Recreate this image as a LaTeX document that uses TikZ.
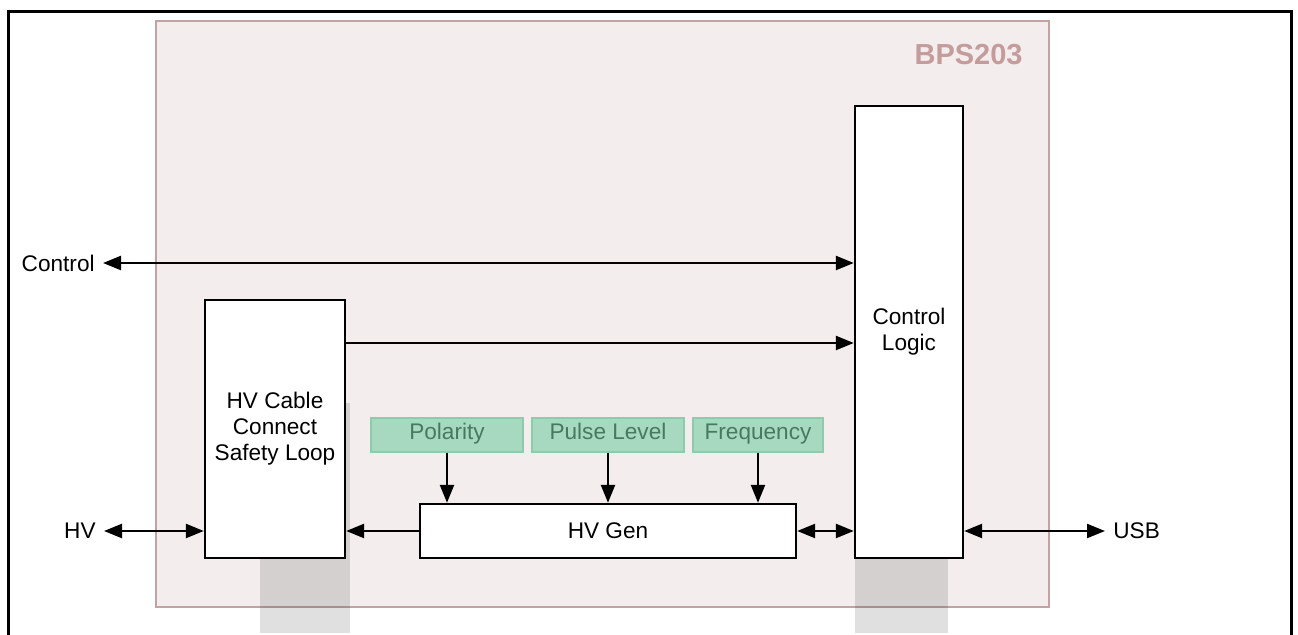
\documentclass[tikz,border=0pt]{standalone}
\usepackage{fontspec}
\setmainfont{Liberation Sans}
\usetikzlibrary{arrows.meta}
\definecolor{frameRose}{HTML}{C2A3A3}
\definecolor{fillRose}{HTML}{F3EDED}
\definecolor{labelRose}{HTML}{C49C9C}
\definecolor{paramFill}{HTML}{A7D9C1}
\definecolor{paramLine}{HTML}{8DCBAD}
\definecolor{paramText}{HTML}{457A60}
\tikzset{
    blockdiagram/.style={
        x=0.5pt, y=-0.5pt,
        font=\fontsize{11.3}{13}\selectfont,
        block/.style={draw=black, fill=white, line width=1.2pt, inner sep=0pt, align=center},
        param/.style={draw=paramLine, fill=paramFill, text=paramText, line width=0.6pt, minimum height=17pt, inner sep=0pt, text height=0.72em, text depth=0.22em},
        portlabel/.style={inner sep=4pt},
        shadowbox/.style={fill=black, fill opacity=0.12},
        link/.style={line width=1.2pt},
        >={Triangle[length=9pt, width=7pt]},
    },
}

\begin{document}
\begin{tikzpicture}[blockdiagram]
    \clip (0,0) rectangle (1298,635);
    \draw[line width=1.5pt] (8,12) rectangle (1291,660);
    \draw[frameRose, fill=fillRose, line width=1pt] (156,21) rectangle (1049,607);
    \node[anchor=east, text=labelRose, font=\fontsize{14.5}{17}\selectfont\bfseries, inner sep=0pt] (name) at (1023,55) {BPS203};
    % shadows behind the blocks
    \fill[shadowbox] (260,403) rectangle (350,633);
    \fill[shadowbox] (855,300) rectangle (948,633);
    % blocks
    \node[block, minimum width=54pt, minimum height=226pt] (logic) at (909,332) {Control\\Logic};
    \node[block, minimum width=70pt, minimum height=129pt] (cable) at (275,429) {HV Cable\\Connect\\Safety Loop};
    \node[block, minimum width=188pt, minimum height=27pt] (gen) at (608,531) {HV Gen};
    \node[param, minimum width=76pt] (polarity) at (447,435) {Polarity};
    \node[param, minimum width=76pt] (pulse) at (608,435) {Pulse Level};
    \node[param, minimum width=65pt] (freq) at (758,435) {Frequency};
    % ports
    \node[portlabel, anchor=east] (ctl) at (103,263) {Control};
    \node[portlabel, anchor=east] (hv) at (104,531) {HV};
    \node[portlabel, anchor=west] (usb) at (1105,531) {USB};
    \coordinate (sense) at (0,343);
    % connections
    \draw[link, <->] (ctl) -- (logic.west |- ctl);
    \draw[link, ->] (cable.east |- sense) -- (logic.west |- sense);
    \draw[link, <->] (hv) -- (cable.west |- hv);
    \draw[link, ->] (gen.west) -- (cable.east |- gen.west);
    \draw[link, <->] (gen.east) -- (logic.west |- gen.east);
    \draw[link, <->] (logic.east |- usb) -- (usb);
    \draw[link, ->] (polarity) -- (polarity |- gen.north);
    \draw[link, ->] (pulse) -- (pulse |- gen.north);
    \draw[link, ->] (freq) -- (freq |- gen.north);
\end{tikzpicture}
\end{document}
